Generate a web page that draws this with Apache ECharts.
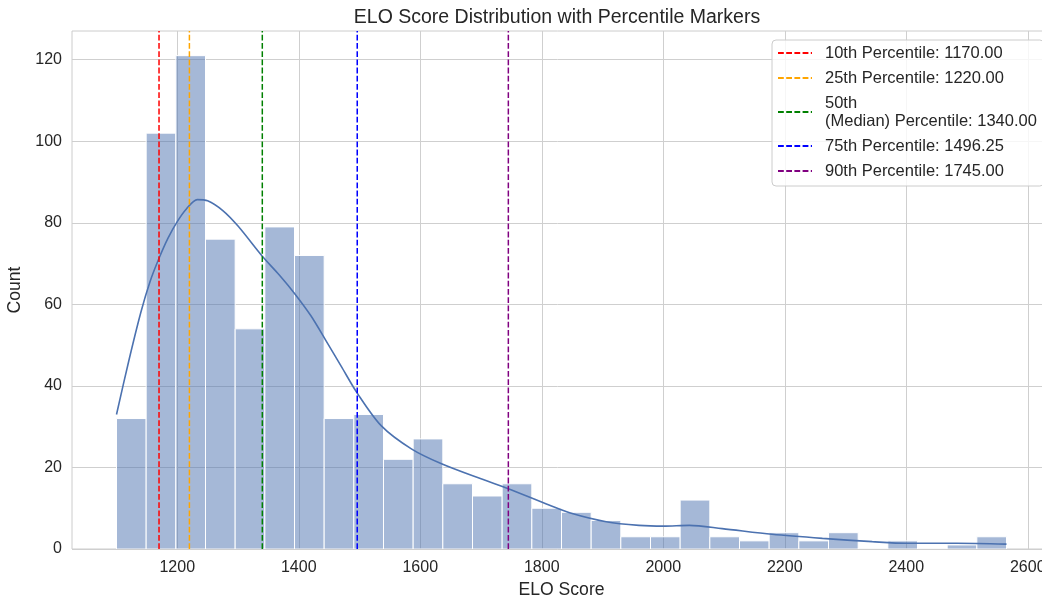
<!DOCTYPE html>
<html>
<head>
<meta charset="utf-8">
<script src="https://cdn.jsdelivr.net/npm/echarts@6/dist/echarts.min.js"></script>
<style>
  html, body { margin: 0; padding: 0; background: #ffffff; }
  #chart { width: 1042px; height: 598px; }
</style>
</head>
<body>
<div id="chart"></div>
<script>
// Histogram: 30 equal-width bins between the lowest and highest ELO score
const binCounts = [32, 102, 121, 76, 54, 79, 72, 32, 33, 22, 27, 16, 13, 16, 10,
                   9, 7, 3, 3, 12, 3, 2, 4, 2, 4, 0, 2, 0, 1, 3];
const scoreMin = 1100;
const scoreMax = 2565;

// Kernel density estimate, scaled to counts
const kdeX = [1100, 1120, 1140, 1155, 1170, 1185, 1200, 1215, 1233, 1250, 1275, 1300,
              1340, 1368, 1394, 1420, 1444, 1470, 1496, 1536, 1586, 1635, 1700, 1745,
              1812, 1850, 1906, 1960, 2000, 2043, 2097, 2179, 2262, 2344, 2400, 2483, 2565];
const kdeY = [33, 46, 58, 65.5, 71.3, 76.3, 80.3, 83.4, 85.7, 85.4, 83, 79.2,
              71.8, 67.2, 62.5, 57.2, 51.3, 44.8, 38.3, 30.2, 24.5, 20.9, 17.2, 14.8,
              10.8, 8.7, 6.7, 5.8, 5.6, 5.8, 5.0, 3.6, 2.6, 1.8, 1.4, 1.4, 1.2];

// Percentile markers
const percentileNames = [
  '10th Percentile: 1170.00',
  '25th Percentile: 1220.00',
  '50th\n(Median) Percentile: 1340.00',
  '75th Percentile: 1496.25',
  '90th Percentile: 1745.00'
];
const percentileValues = [1170, 1220, 1340, 1496.25, 1745];
const percentileColors = ['#ff0000', '#ffa500', '#008000', '#0000ff', '#800080'];

// Tick labels
const xTicks = [1200, 1400, 1600, 1800, 2000, 2200, 2400, 2600];
const yTicks = [0, 20, 40, 60, 80, 100, 120];

// Axis extents (5% padding around the data range)
const xPad = (scoreMax - scoreMin) * 0.05;
const xMin = scoreMin - xPad;
const xMax = scoreMax + xPad;
const yMax = Math.max(...binCounts) * 1.05;

const FONT = 'Liberation Sans, Arial, Helvetica, sans-serif';
const TEXT = '#262626';
const GRID = '#cfcfcf';

const binWidth = (scoreMax - scoreMin) / binCounts.length;
const histData = binCounts.map((c, i) => [scoreMin + i * binWidth, scoreMin + (i + 1) * binWidth, c]);

const percentileSeries = percentileNames.map((name, i) => ({
  name: name,
  type: 'line',
  data: [[percentileValues[i], 0], [percentileValues[i], yMax]],
  symbol: 'none',
  silent: true,
  z: 5,
  itemStyle: { color: percentileColors[i] },
  lineStyle: { color: percentileColors[i], width: 1.5, type: [5.8, 2.4] }
}));

const chart = echarts.init(document.getElementById('chart'), null, { renderer: 'canvas' });
chart.setOption({
  animation: false,
  backgroundColor: '#ffffff',
  textStyle: { fontFamily: FONT },
  graphic: [{
    type: 'text',
    x: 557, y: 18,
    style: {
      text: 'ELO Score Distribution with Percentile Markers',
      fontSize: 19.5, fontFamily: FONT, fill: TEXT,
      align: 'center', verticalAlign: 'middle'
    }
  }],
  grid: {
    left: 72, right: -9, top: 31, bottom: 49,
    outerBoundsMode: 'none',
    containLabel: false,
    show: true, borderColor: '#cccccc', borderWidth: 1, backgroundColor: '#ffffff'
  },
  legend: {
    data: percentileNames,
    orient: 'vertical',
    left: 772, top: 40,
    selectedMode: false,
    itemWidth: 34, itemHeight: 14, itemGap: 7,
    padding: [4, 7, 6, 5],
    backgroundColor: 'rgba(255,255,255,0.8)',
    borderColor: '#cccccc', borderWidth: 1, borderRadius: 4,
    itemStyle: { opacity: 0 },
    textStyle: { fontSize: 16.5, lineHeight: 18, color: TEXT, fontFamily: FONT, padding: [0, 0, 0, 8] }
  },
  xAxis: {
    type: 'value',
    min: xMin, max: xMax,
    name: 'ELO Score',
    nameLocation: 'middle',
    nameGap: 32,
    nameTextStyle: { fontSize: 17.6, color: TEXT, fontFamily: FONT },
    axisLine: { show: false },
    axisTick: { show: false, customValues: xTicks },
    axisLabel: {
      customValues: xTicks, fontSize: 16, color: TEXT, fontFamily: FONT, margin: 11,
      formatter: v => String(v)
    },
    splitLine: { show: true, lineStyle: { color: GRID, width: 1 } }
  },
  yAxis: {
    type: 'value',
    min: 0, max: yMax,
    name: 'Count',
    nameLocation: 'middle',
    nameGap: 41,
    nameTextStyle: { fontSize: 17.6, color: TEXT, fontFamily: FONT },
    axisLine: { show: false },
    axisTick: { show: false, customValues: yTicks },
    axisLabel: { customValues: yTicks, fontSize: 16, color: TEXT, fontFamily: FONT, margin: 10 },
    splitLine: { show: true, lineStyle: { color: GRID, width: 1 } }
  },
  series: [
    {
      name: 'Histogram',
      type: 'custom',
      data: histData,
      encode: { x: [0, 1], y: 2 },
      clip: true,
      z: 2,
      silent: true,
      renderItem: function (params, api) {
        const topLeft = api.coord([api.value(0), api.value(2)]);
        const bottomRight = api.coord([api.value(1), 0]);
        return {
          type: 'rect',
          shape: {
            x: topLeft[0], y: topLeft[1],
            width: bottomRight[0] - topLeft[0],
            height: bottomRight[1] - topLeft[1]
          },
          style: { fill: 'rgba(76,114,176,0.5)', stroke: '#ffffff', lineWidth: 1 }
        };
      }
    },
    {
      name: 'KDE',
      type: 'line',
      data: kdeX.map((x, i) => [x, kdeY[i]]),
      smooth: 0.3,
      symbol: 'none',
      silent: true,
      z: 4,
      lineStyle: { color: '#4c72b0', width: 1.6 }
    }
  ].concat(percentileSeries)
});
</script>
</body>
</html>
